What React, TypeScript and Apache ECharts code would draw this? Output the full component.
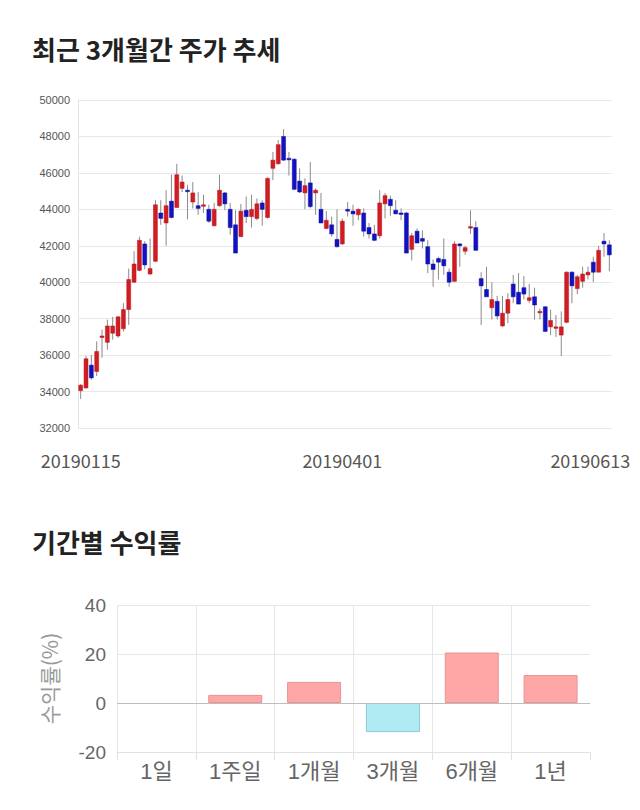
import React, { useEffect, useRef } from 'react';
import * as echarts from 'echarts';

const dates: string[] = [
  '20190115','20190116','20190117','20190118','20190121','20190122','20190123','20190124','20190125','20190128',
  '20190129','20190130','20190201','20190207','20190208','20190211','20190212','20190213','20190214',
  '20190215','20190218','20190219','20190220','20190221','20190222','20190225','20190226','20190227','20190228',
  '20190304','20190305','20190306','20190307','20190308','20190311','20190312','20190313','20190314','20190315',
  '20190318','20190319','20190320','20190321','20190322','20190325','20190326','20190327','20190328','20190329',
  '20190401','20190402','20190403','20190404','20190405','20190408','20190409','20190410','20190411','20190412',
  '20190415','20190416','20190417','20190418','20190419','20190422','20190423','20190424','20190425','20190426',
  '20190429','20190430','20190502','20190503','20190507','20190508','20190509','20190510','20190513','20190514','20190515',
  '20190516','20190517','20190520','20190521','20190522','20190523','20190524','20190527','20190528','20190529',
  '20190530','20190531','20190603','20190604','20190605','20190607','20190610','20190611','20190612','20190613',
];

const openP: number[] = [
  34050,34200,35450,35100,37000,36700,37200,37050,37450,38500,
  40000,40650,42100,40450,41150,43800,43250,44450,44100,45150,
  45050,44400,44200,44200,44000,43100,44200,44900,44000,43150,
  42500,43950,43600,43500,44350,43550,46250,46500,48000,46800,
  46750,45550,44900,45450,44900,44000,42950,43150,42350,42100,
  44000,43900,43700,43800,43000,42650,42550,44300,44550,43950,
  43800,43800,41800,42800,42400,41950,41000,41300,41250,40550,
  40050,42100,41700,43000,43000,40200,39600,38600,38950,37600,
  38300,39900,39450,39700,39000,39200,38400,38650,37550,37550,
  37100,37800,40550,39650,40050,40400,41100,40550,42250,42050,
];
const closeP: number[] = [
  34350,35800,34750,36200,37050,37600,37600,38100,38500,40150,
  41000,42300,40950,40750,44250,43500,44200,43550,45900,45500,
  45000,44900,44050,44250,43350,44000,45050,44300,43000,41600,
  43900,43600,44000,44300,44000,45700,46700,47550,46700,46750,
  45100,44950,45300,44150,45050,43250,43400,42650,41950,43350,
  43900,43750,44000,42800,42650,42300,44350,44750,44200,43750,
  43750,41600,42550,42150,42250,41000,40700,41100,40900,40000,
  42100,42000,41900,43050,41750,39800,39200,39050,38150,38300,
  39050,39200,38800,39350,39150,38750,38400,37300,37900,37550,
  37550,40550,39800,40300,40450,40550,40550,41750,42100,41500,
];
const lowP: number[] = [
  33600,34150,34650,34850,35850,36300,36850,36950,37300,37650,
  39950,40600,40700,40400,41100,43150,42000,43500,44100,44950,
  43450,44050,43700,43800,43250,43050,44150,43950,42600,41600,
  42500,43250,43000,43400,43100,43500,45600,46450,46650,45850,
  45050,44900,44000,44050,43700,43250,42900,42500,41900,42050,
  43600,43100,43400,42500,42400,42250,42400,43500,43650,43750,
  43400,41600,41200,42150,41850,40500,39750,40150,40400,39750,
  40000,40850,41500,42650,41750,37650,39200,37950,37950,37550,
  37750,38850,38800,39050,38850,37950,37950,37300,37100,37000,
  35950,37750,38850,39350,39700,40150,40000,40550,41400,40600,
];
const highP: number[] = [
  34400,35950,36000,36750,37400,37950,38100,38150,38850,40750,
  41700,42500,42250,42400,44500,44500,45050,45900,46500,45850,
  45350,45500,44950,44800,44250,44350,45900,44950,44350,43950,
  44300,44700,44800,44600,44500,45750,47150,47800,48400,47150,
  46800,46250,45700,46600,45150,44900,43900,43600,44000,43500,
  44400,44250,44050,44050,43250,43150,45050,44900,44750,44500,
  44050,43850,42700,42950,42850,42300,41250,41400,42400,40750,
  42250,42150,42000,43950,43350,40550,40850,40000,39250,39250,
  39400,40400,40500,40350,39900,39700,38550,38700,38500,38200,
  38400,40600,40600,40400,40850,40850,41400,42000,42700,42300,
];

const periods: string[] = ['1일', '1주일', '1개월', '3개월', '6개월', '1년'];
const returns: number[] = [0, 3.3, 8.6, -11.9, 20.6, 11.4];
const shownDates: string[] = ['20190115', '20190401', '20190613'];

const FONT = "'Noto Sans CJK KR', 'Noto Sans', sans-serif";
const NUMFONT = "'Liberation Sans', Arial, 'Noto Sans CJK KR', sans-serif";

export default function App() {
  const ref = useRef<HTMLDivElement>(null);
  useEffect(() => {
    const chart = echarts.init(ref.current as HTMLDivElement, null, { renderer: 'svg' });
    const candleData = dates.map((d, i) => [i, openP[i], closeP[i], lowP[i], highP[i]]);
    const lastIdx = dates.length - 1;
    const shownIdx = shownDates.map((d) => dates.indexOf(d));

    const renderCandle = (params: any, api: any) => {
      const idx = api.value(0);
      const o = api.value(1);
      const c = api.value(2);
      const l = api.value(3);
      const h = api.value(4);
      const pH = api.coord([idx, h]);
      const pL = api.coord([idx, l]);
      const pO = api.coord([idx, o]);
      const pC = api.coord([idx, c]);
      const bw = api.size([1, 0])[0] * 0.74;
      const up = c >= o;
      const top = Math.min(pO[1], pC[1]);
      const hgt = Math.max(Math.abs(pO[1] - pC[1]), 1.5);
      const color = up ? '#d01c22' : '#1212c2';
      return {
        type: 'group',
        children: [
          {
            type: 'line',
            shape: { x1: pH[0], y1: pH[1], x2: pL[0], y2: pL[1] },
            style: { stroke: '#8a8a8a', lineWidth: 1 },
          },
          {
            type: 'rect',
            shape: { x: pO[0] - bw / 2, y: top, width: bw, height: hgt },
            style: { fill: color, stroke: up ? '#b8161b' : '#0c0ca0', lineWidth: 0.5 },
          },
        ],
      };
    };

    chart.setOption({
      animation: false,
      backgroundColor: '#ffffff',
      title: [
        {
          text: '최근 3개월간 주가 추세',
          left: 32,
          top: 35,
          padding: 0,
          textStyle: { fontSize: 26, fontWeight: 'bold', color: '#222', fontFamily: FONT },
        },
        {
          text: '기간별 수익률',
          left: 32,
          top: 528,
          padding: 0,
          textStyle: { fontSize: 26, fontWeight: 'bold', color: '#222', fontFamily: FONT },
        },
      ],
      grid: [
        { left: 78, right: 28, top: 100, height: 328 },
        { left: 117, right: 50, top: 605, height: 147 },
      ],
      xAxis: [
        {
          type: 'category',
          gridIndex: 0,
          data: dates,
          boundaryGap: true,
          axisLine: { show: false },
          axisTick: { show: false },
          splitLine: { show: false },
          axisLabel: {
            interval: (i: number) => shownIdx.includes(i),
            margin: 23,
            fontSize: 18,
            color: '#555',
            fontFamily: FONT,
            formatter: (v: string, i: number) => (i === lastIdx ? '{last|' + v + '}' : v),
            rich: {
              last: { fontSize: 18, color: '#555', fontFamily: FONT, padding: [0, 38, 0, 0] },
            },
          },
        },
        {
          type: 'category',
          gridIndex: 1,
          data: periods,
          axisLine: { show: true, onZero: false, lineStyle: { color: '#e2e2e2' } },
          axisTick: { show: true, length: 8, lineStyle: { color: '#e2e2e2' } },
          splitLine: { show: true, showMaxLine: false, lineStyle: { color: '#e6e6e6' } },
          axisLabel: { fontSize: 22, color: '#666', margin: 8, fontFamily: NUMFONT },
        },
      ],
      yAxis: [
        {
          type: 'value',
          gridIndex: 0,
          min: 32000,
          max: 50000,
          interval: 2000,
          axisLine: { show: true, lineStyle: { color: '#e4e4e4' } },
          axisTick: { show: false },
          splitLine: { show: true, lineStyle: { color: '#e8e8e8' } },
          axisLabel: {
            fontSize: 11,
            color: '#555',
            margin: 8,
            fontFamily: NUMFONT,
            formatter: (v: number) => String(v),
          },
        },
        {
          type: 'value',
          gridIndex: 1,
          min: -20,
          max: 40,
          interval: 20,
          axisLine: { show: false },
          axisTick: { show: false },
          splitLine: { show: true, lineStyle: { color: '#e6e6e6' } },
          axisLabel: { fontSize: 19, color: '#666', margin: 11, fontFamily: NUMFONT },
          name: '수익률(%)',
          nameLocation: 'middle',
          nameGap: 58,
          nameTextStyle: { fontSize: 21, color: '#999', fontFamily: FONT },
        },
      ],
      series: [
        {
          type: 'custom',
          xAxisIndex: 0,
          yAxisIndex: 0,
          data: candleData,
          encode: { x: 0, y: [1, 2, 3, 4] },
          renderItem: renderCandle,
          silent: true,
        },
        {
          type: 'bar',
          xAxisIndex: 1,
          yAxisIndex: 1,
          barWidth: 54,
          data: returns.map((v) => ({
            value: v,
            itemStyle:
              v > 0
                ? { color: '#ffa6a6', borderColor: '#e79494', borderWidth: 1 }
                : v < 0
                ? { color: '#b0eaf3', borderColor: '#8ccbd6', borderWidth: 1 }
                : { color: 'rgba(0,0,0,0)', borderWidth: 0 },
          })),
          markLine: {
            silent: true,
            symbol: 'none',
            label: { show: false },
            lineStyle: { color: '#bdbdbd', width: 1, type: 'solid' },
            data: [{ yAxis: 0 }],
          },
        },
      ],
    });
    return () => chart.dispose();
  }, []);
  return (
    <div
      ref={ref}
      style={{ position: 'fixed', left: 0, top: 0, width: 640, height: 810, background: '#fff' }}
    />
  );
}
